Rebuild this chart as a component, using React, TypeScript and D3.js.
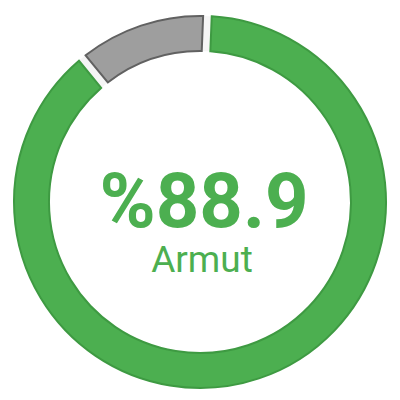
import React from "react";
import * as d3 from "d3";

const categories = ["Armut", "Diğer"];
const values = [88.9, 11.1];
const fills = ["#4CAF50", "#9E9E9E"];
const strokes = ["#3E9A42", "#616161"];
const centerValue = "%88.9";
const centerLabel = "Armut";

export default function App() {
  const W = 400, H = 400;
  const cx = 200, cy = 202;
  const outer = 186, inner = 151;
  const offset = 0.04;
  const pie = d3
    .pie<number>()
    .sort(null)
    .startAngle(offset)
    .endAngle(Math.PI * 2 + offset)
    .padAngle(0.036);
  const arcs = pie(values);
  const arc = d3.arc<d3.PieArcDatum<number>>().innerRadius(inner).outerRadius(outer);
  const bg = d3.arc()({ innerRadius: inner, outerRadius: outer, startAngle: 0, endAngle: Math.PI * 2 } as any) as string;
  return (
    <svg
      width={W}
      height={H}
      style={{ position: "fixed", left: 0, top: 0, background: "#fff" }}
    >
      <g transform={`translate(${cx},${cy})`}>
        <path d={bg} fill="#F5F5F5" />
        {arcs.map((a, i) => (
          <path
            key={categories[i]}
            d={arc(a) as string}
            fill={fills[i]}
            stroke={strokes[i]}
            strokeWidth={2}
          />
        ))}
        <text
          x={4}
          y={25}
          textAnchor="middle"
          fontFamily="Roboto"
          fontWeight={700}
          fontSize={76}
          fill="#4CAF50"
        >
          {centerValue}
        </text>
        <text
          x={2}
          y={70}
          textAnchor="middle"
          fontFamily="Roboto"
          fontSize={37}
          fill="#4CAF50"
        >
          {centerLabel}
        </text>
      </g>
    </svg>
  );
}
